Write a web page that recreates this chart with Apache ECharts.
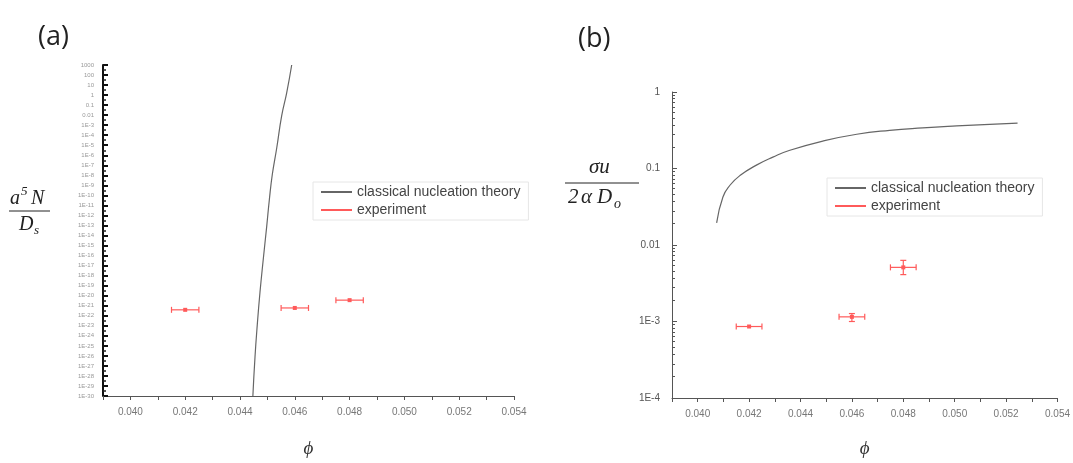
<!DOCTYPE html>
<html><head><meta charset="utf-8">
<script src="https://cdn.jsdelivr.net/npm/echarts/dist/echarts.min.js"></script>
<style>html,body{margin:0;padding:0;background:#fff}#c{width:1073px;height:463px}</style>
</head><body><div id="c"></div>
<script>
// ---- data ----
const seriesNames = ['classical nucleation theory', 'experiment'];
const xTickRange = [0.039, 0.054];
// panel (a): classical nucleation theory curve  [phi, a^5N/Ds]
const theoryA_phi = [0.04447, 0.044547, 0.044631, 0.04473, 0.04485, 0.044974, 0.045069, 0.045179, 0.045339, 0.045522, 0.045704, 0.045887];
const theoryA_val = [1e-30, 7.4e-27, 1.3e-23, 2.3e-20, 4.6e-17, 7.8e-14, 3.3e-11, 1.2e-8, 5.0e-6, 8.9e-3, 1.7, 1000];
// panel (a): experiment
const expA_phi = [0.042, 0.046, 0.048];
const expA_val = [3.9e-22, 6.0e-22, 3.6e-21];
const expA_xerr = [0.0005, 0.0005, 0.0005];
// panel (b): theory curve [phi, sigma u / 2 alpha Do]
const theoryB_phi = [0.040737, 0.040982, 0.041254, 0.041643, 0.042303, 0.042925, 0.043586, 0.044868, 0.046189, 0.047472, 0.048754, 0.050075, 0.051358, 0.052446];
const theoryB_val = [0.0195, 0.0425, 0.0604, 0.0809, 0.1116, 0.141, 0.173, 0.2284, 0.2805, 0.315, 0.339, 0.3597, 0.3777, 0.3924];
// panel (b): experiment
const expB_phi = [0.042, 0.046, 0.048];
const expB_val = [8.6e-4, 1.15e-3, 5.1e-3];
const expB_xerr = [0.0005, 0.0005, 0.0005];
const expB_ylo = [8.6e-4, 1.0e-3, 4.1e-3];
const expB_yhi = [8.6e-4, 1.27e-3, 6.3e-3];
const yRangeA = [1e-30, 1000];
const yRangeB = [1e-4, 1];

// ---- helpers ----
const RED = '#ff5a5a';
const GRAY = '#666';
const lg = Math.log10;
function expLabel(e) {
  e = Math.round(e);
  if (e >= 0) return String(Math.pow(10, e));
  if (e === -1) return '0.1';
  if (e === -2) return '0.01';
  return '1E' + e;
}
function logLabel(v) { return expLabel(Math.log10(v)); }
function xLabel(v) {
  const k = Math.round(v * 1000);
  return k % 2 === 0 ? (k / 1000).toFixed(3) : '';
}
function errRender(params, api) {
  const x = api.value(0), y = api.value(1), xe = api.value(2), ylo = api.value(3), yhi = api.value(4);
  const c = api.coord([x, y]);
  const l = api.coord([x - xe, y]);
  const r = api.coord([x + xe, y]);
  const st = { stroke: RED, lineWidth: 1.2 };
  const cap = 3;
  const ch = [
    { type: 'line', shape: { x1: l[0], y1: l[1], x2: r[0], y2: r[1] }, style: st },
    { type: 'line', shape: { x1: l[0], y1: l[1] - cap, x2: l[0], y2: l[1] + cap }, style: st },
    { type: 'line', shape: { x1: r[0], y1: r[1] - cap, x2: r[0], y2: r[1] + cap }, style: st },
    { type: 'rect', shape: { x: c[0] - 2, y: c[1] - 2, width: 4, height: 4 }, style: { fill: RED } }
  ];
  if (!isNaN(ylo) && !isNaN(yhi) && yhi !== ylo) {
    const lo = api.coord([x, ylo]), hi = api.coord([x, yhi]);
    ch.push({ type: 'line', shape: { x1: lo[0], y1: lo[1], x2: hi[0], y2: hi[1] }, style: st });
    ch.push({ type: 'line', shape: { x1: lo[0] - cap, y1: lo[1], x2: lo[0] + cap, y2: lo[1] }, style: st });
    ch.push({ type: 'line', shape: { x1: hi[0] - cap, y1: hi[1], x2: hi[0] + cap, y2: hi[1] }, style: st });
  }
  return { type: 'group', children: ch };
}

const FONT = 'Liberation Sans';

function xAxisCfg(gi, nameGap) {
  return {
    gridIndex: gi, type: 'value', min: xTickRange[0], max: xTickRange[1], interval: 0.001,
    name: 'ϕ', nameLocation: 'middle', nameGap: nameGap,
    nameTextStyle: { fontFamily: 'Liberation Serif', fontStyle: 'italic', fontSize: 19, color: '#333' },
    axisLine: { show: true, onZero: false, lineStyle: { color: '#555', width: 1 } },
    axisTick: { show: true, inside: false, length: 4, lineStyle: { color: '#555' } },
    axisLabel: { formatter: xLabel, fontSize: 10, color: '#777', fontFamily: FONT, margin: 11 },
    splitLine: { show: false }
  };
}
function legendCfg(left, top) {
  return { orient: 'vertical', left: left, top: top, padding: [2, 8, 2, 8], itemGap: 2, itemWidth: 31, itemHeight: 2,
    borderColor: '#e6e6e6', borderWidth: 1,
    textStyle: { fontSize: 14, lineHeight: 16, color: '#444', fontFamily: FONT },
    data: [{ name: seriesNames[0], icon: 'rect' }, { name: seriesNames[1], icon: 'rect' }] };
}
const serifItalic = (px) => 'italic ' + px + 'px "Liberation Serif"';
const txt = (left, top, text, px) => ({ type: 'text', left: left, top: top, style: { text: text, font: serifItalic(px), fill: '#222' } });

const option = {
  animation: false,
  backgroundColor: '#fff',
  title: [
    { text: '(a)', left: 33, top: 19, textStyle: { fontFamily: 'Open Sans', fontWeight: 'normal', fontSize: 27, color: '#222' } },
    { text: '(b)', left: 573, top: 21, textStyle: { fontFamily: 'Open Sans', fontWeight: 'normal', fontSize: 27, color: '#222' } }
  ],
  grid: [
    { left: 103, top: 65, width: 411, height: 338 },
    { left: 672, top: 92, width: 386, height: 315 }
  ],
  legend: [legendCfg(313, 182), legendCfg(827, 178)],
  xAxis: [xAxisCfg(0, 43), xAxisCfg(1, 41)],
  yAxis: [
    { gridIndex: 0, type: 'value', min: lg(yRangeA[0]), max: lg(yRangeA[1]), interval: 1,
      axisLine: { show: true, lineStyle: { color: '#111', width: 2 } },
      axisTick: { show: true, inside: true, length: 5, lineStyle: { color: '#111', width: 2 } },
      minorTick: { show: true, splitNumber: 2, length: 3, lineStyle: { color: '#222', width: 1.5 } },
      axisLabel: { formatter: expLabel, fontSize: 6, color: '#999', fontFamily: FONT, margin: 9 },
      splitLine: { show: false } },
    { gridIndex: 1, type: 'log', logBase: 10, min: yRangeB[0], max: yRangeB[1], interval: 1,
      axisLine: { show: true, lineStyle: { color: '#555', width: 1 } },
      axisTick: { show: true, inside: true, length: 5, lineStyle: { color: '#555' } },
      minorTick: { show: true, splitNumber: 10, length: 3, lineStyle: { color: '#555' } },
      axisLabel: { formatter: logLabel, fontSize: 10, color: '#555', fontFamily: FONT, margin: 12 },
      splitLine: { show: false } }
  ],
  series: [
    { name: seriesNames[0], type: 'line', xAxisIndex: 0, yAxisIndex: 0,
      data: theoryA_phi.map((p, i) => [p, lg(theoryA_val[i])]),
      showSymbol: false, smooth: 0.5, lineStyle: { color: GRAY, width: 1.2 }, itemStyle: { color: GRAY } },
    { name: seriesNames[1], type: 'custom', xAxisIndex: 0, yAxisIndex: 0, renderItem: errRender,
      itemStyle: { color: RED },
      data: expA_phi.map((p, i) => [p, lg(expA_val[i]), expA_xerr[i], NaN, NaN]) },
    { name: seriesNames[0], type: 'line', xAxisIndex: 1, yAxisIndex: 1,
      data: theoryB_phi.map((p, i) => [p, theoryB_val[i]]),
      showSymbol: false, smooth: 0.5, lineStyle: { color: GRAY, width: 1.2 }, itemStyle: { color: GRAY } },
    { name: seriesNames[1], type: 'custom', xAxisIndex: 1, yAxisIndex: 1, renderItem: errRender,
      itemStyle: { color: RED },
      data: expB_phi.map((p, i) => [p, expB_val[i], expB_xerr[i], expB_ylo[i], expB_yhi[i]]) }
  ],
  graphic: [
    // panel (a) y-axis title: a^5 N / D_s
    txt(10, 189, 'a', 20),
    txt(21, 185, '5', 13),
    txt(31, 189, 'N', 20),
    { type: 'line', shape: { x1: 9, y1: 211, x2: 50, y2: 211 }, style: { stroke: '#222', lineWidth: 1 } },
    txt(19, 215, 'D', 20),
    txt(34, 224, 's', 13),
    // panel (b) y-axis title: sigma u / 2 alpha D_o
    txt(589, 157, 'σu', 21),
    { type: 'line', shape: { x1: 565, y1: 183, x2: 639, y2: 183 }, style: { stroke: '#222', lineWidth: 1 } },
    txt(568, 187, '2', 21),
    txt(581, 187, 'α', 21),
    txt(597, 187, 'D', 21),
    txt(614, 197, 'o', 14)
  ]
};
const chart = echarts.init(document.getElementById('c'));
chart.setOption(option);
</script>
</body></html>
